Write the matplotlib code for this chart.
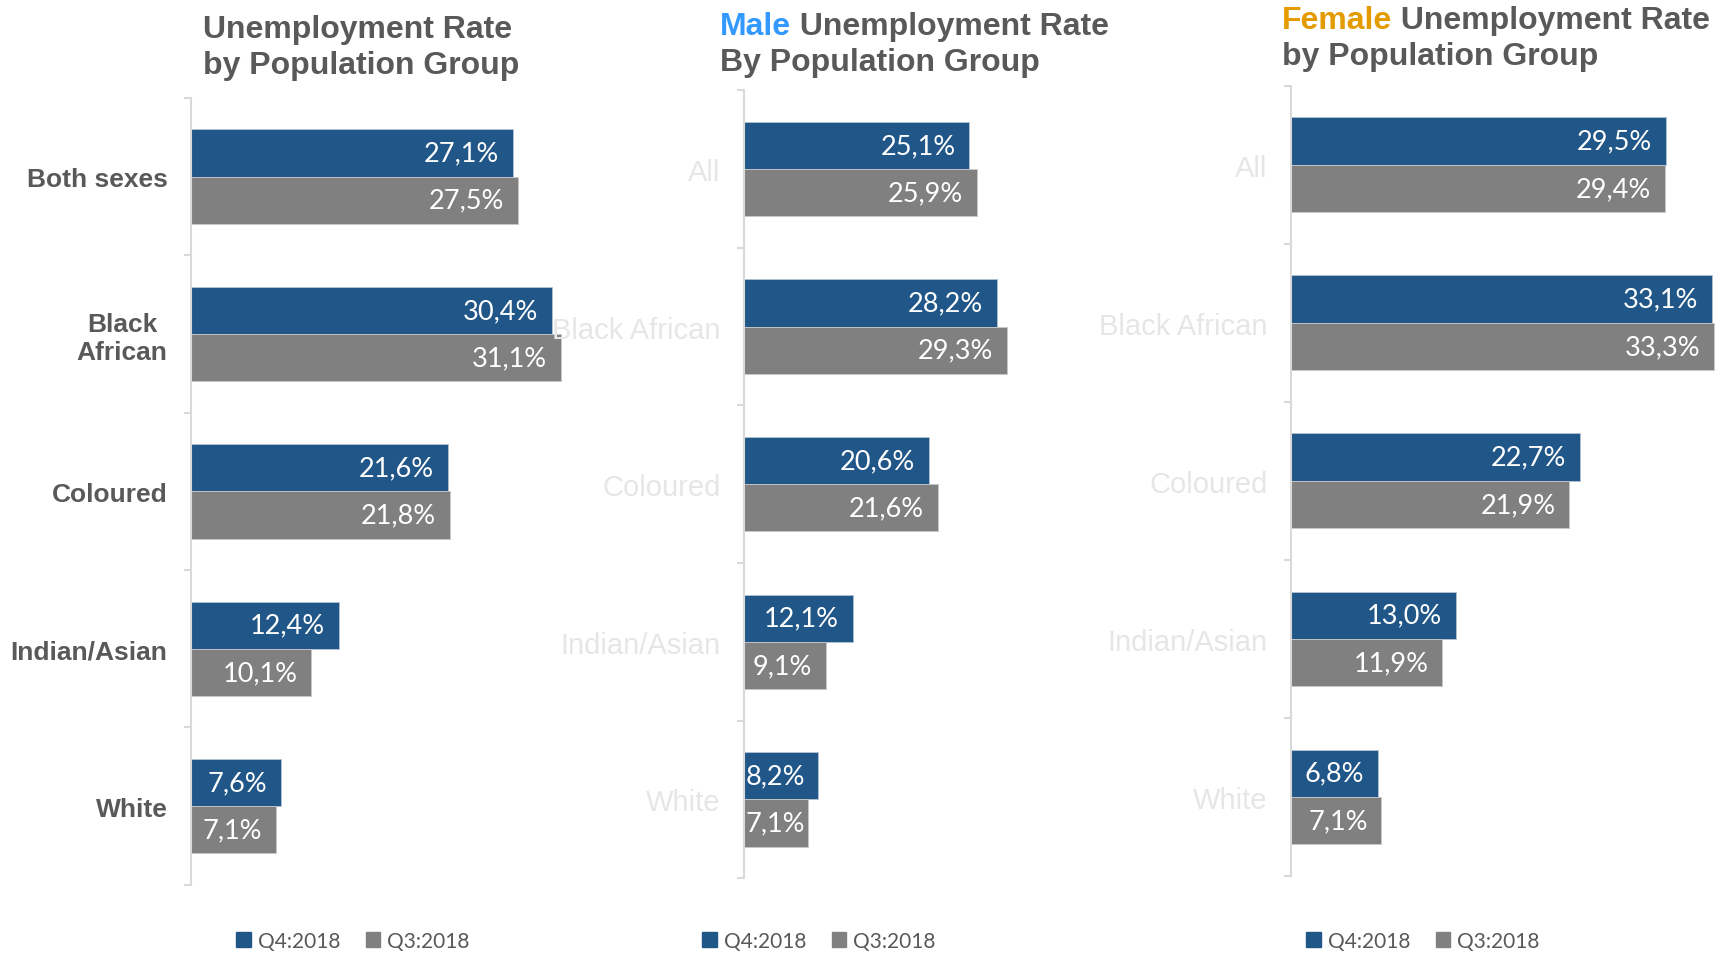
import matplotlib
matplotlib.use("Agg")
import matplotlib.pyplot as plt
from matplotlib.patches import Patch

groups_all = ['Both sexes', 'Black\nAfrican', 'Coloured', 'Indian/Asian', 'White']
groups_sex = ['All', 'Black African', 'Coloured', 'Indian/Asian', 'White']

q4_all = [27.1, 30.4, 21.6, 12.4, 7.6]
q3_all = [27.5, 31.1, 21.8, 10.1, 7.1]
q4_male = [25.1, 28.2, 20.6, 12.1, 8.2]
q3_male = [25.9, 29.3, 21.6, 9.1, 7.1]
q4_female = [29.5, 33.1, 22.7, 13.0, 6.8]
q3_female = [29.4, 33.3, 21.9, 11.9, 7.1]

series_names = ['Q4:2018', 'Q3:2018']

BLUE = '#215788'
GREY = '#808080'
TXT = '#595959'
AXC = '#d9d9d9'

W, H = 1723, 954
fig = plt.figure(figsize=(W / 100, H / 100), dpi=100)


def fmt(v):
    return f"{v:.1f}".replace('.', ',') + '%'


def panel(rect, xmax, cats, q4, q3, lab_color, lab_weight, lab_size):
    ax = fig.add_axes(rect)
    y = list(range(len(cats)))
    ax.barh([i - 0.15 for i in y], q4, height=0.3, color=BLUE,
            edgecolor='#b4c2d2', linewidth=0.6)
    ax.barh([i + 0.15 for i in y], q3, height=0.3, color=GREY,
            edgecolor='#c8c8c8', linewidth=0.6)
    ax.set_xlim(0, xmax)
    ax.set_ylim(len(cats) - 0.5, -0.5)
    # px per data unit
    ppu = rect[2] * W / xmax
    for vals, off in ((q4, -0.15), (q3, 0.15)):
        for i, v in enumerate(vals):
            bw = v * ppu
            if bw > 77:
                ax.annotate(fmt(v), xy=(v, i + off), xytext=(-10, 0),
                            textcoords='offset points', ha='right', va='center',
                            color='white', fontsize=19.5, family='Lato')
            else:
                ax.annotate(fmt(v), xy=(0, i + off), xytext=(1, 0),
                            textcoords='offset points', ha='left', va='center',
                            color='white', fontsize=19.5, family='Lato')
    ax.set_yticks(y)
    ax.set_yticklabels(cats, color=lab_color, fontsize=lab_size, fontweight=lab_weight,
                       family='Liberation Sans', multialignment='center')
    ax.tick_params(axis='y', which='major', length=0, pad=17)
    ax.set_yticks([i - 0.5 for i in range(len(cats) + 1)], minor=True)
    ax.tick_params(axis='y', which='minor', length=5, color=AXC, width=1.5)
    ax.set_xticks([])
    for s in ('top', 'right', 'bottom'):
        ax.spines[s].set_visible(False)
    ax.spines['left'].set_color(AXC)
    ax.spines['left'].set_linewidth(1.5)
    return ax


panel([191.2 / W, 1 - 885.8 / H, 415.8 / W, 786.9 / H], 35,
      groups_all, q4_all, q3_all, TXT, 'bold', 19)
panel([744.0 / W, 1 - 879.2 / H, 314.3 / W, 788.0 / H], 35,
      groups_sex, q4_male, q3_male, '#e6e6e6', 'normal', 21)
panel([1291.3 / W, 1 - 877.0 / H, 431.7 / W, 790.2 / H], 34,
      groups_sex, q4_female, q3_female, '#e6e6e6', 'normal', 21)

TSIZE = 23


def title(x, y1, y2, lead, lead_color, rest1, line2):
    kw = dict(fontsize=TSIZE, fontweight='bold', family='Liberation Sans', va='center')
    if lead:
        t = fig.text(x / W, 1 - y1 / H, lead, color=lead_color, **kw)
        fig.add_artist(plt.Annotation(' ' + rest1, xy=(1, 0.5), xycoords=t,
                                      ha='left', color=TXT, **kw))
    else:
        fig.text(x / W, 1 - y1 / H, rest1, color=TXT, **kw)
    fig.text(x / W, 1 - y2 / H, line2, color=TXT, **kw)


title(203, 30, 66, None, None, 'Unemployment Rate', 'by Population Group')
title(720, 27, 63, 'Male', '#3399ff', 'Unemployment Rate', 'By Population Group')
title(1282, 21, 57, 'Female', '#e39b00', 'Unemployment Rate', 'by Population Group')

handles = [Patch(color=BLUE), Patch(color=GREY)]
for cx in (353, 819, 1423):
    fig.legend(handles, series_names, loc='center', bbox_to_anchor=(cx / W, 1 - 942 / H),
               ncol=2, frameon=False, handlelength=0.7, handleheight=0.7,
               handletextpad=0.35, columnspacing=1.2,
               prop={'family': 'Lato', 'size': 15}, labelcolor=TXT)

fig.savefig('out.png', dpi=100)
